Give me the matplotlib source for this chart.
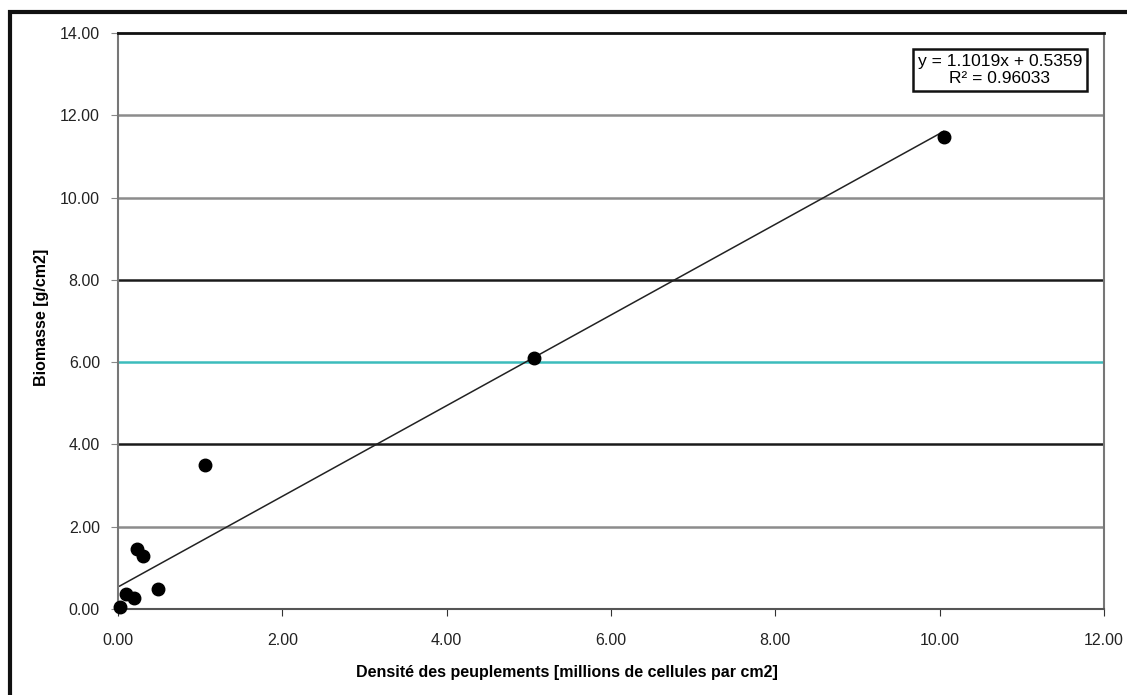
import matplotlib.pyplot as plt
import matplotlib.patches as mpatches
import numpy as np

plt.rcParams['font.family'] = ['Liberation Sans', 'DejaVu Sans']

# data
densite = np.array([0.02, 0.10, 0.19, 0.23, 0.31, 0.49, 1.06, 5.06, 10.05])
biomasse = np.array([0.06, 0.37, 0.28, 1.47, 1.30, 0.48, 3.50, 6.10, 11.48])
pente = 1.1019
ordonnee = 0.5359
r2 = 0.96033

yticks = [0, 2, 4, 6, 8, 10, 12, 14]
xticks = [0, 2, 4, 6, 8, 10, 12]
grid_colors = {2: '#8c8c8c', 4: '#1a1a1a', 6: '#3cbcbc', 8: '#1a1a1a', 10: '#8c8c8c', 12: '#8c8c8c'}

fig = plt.figure(figsize=(11.27, 6.95), dpi=100)
ax = fig.add_axes([0.1047, 0.1237, 0.8749, 0.8288])

# cadre extérieur
fig.patches.append(mpatches.Rectangle((10/1127, -0.05), 1.2, 1 - 12/695 + 0.05,
                                      transform=fig.transFigure, fill=False,
                                      edgecolor='#111111', linewidth=3))

for yv, c in grid_colors.items():
    ax.axhline(yv, color=c, linewidth=1.8, zorder=1)

xs = np.array([densite.min(), densite.max()])
ax.plot(xs, pente * xs + ordonnee, color='#222222', linewidth=1.1, zorder=2)
ax.plot(densite, biomasse, 'o', color='black', markersize=9, zorder=3, clip_on=False)

ax.set_xlim(0, 12)
ax.set_ylim(0, 14)
ax.set_xticks(xticks)
ax.set_yticks(yticks)
ax.set_xticklabels(['%.2f' % v for v in xticks])
ax.set_yticklabels(['%.2f' % v for v in yticks])
ax.tick_params(axis='x', direction='out', length=5, pad=12, labelsize=11.5, colors='#333333', labelcolor='#222222')
ax.tick_params(axis='y', direction='out', length=5, pad=8, labelsize=11.5, colors='#888888', labelcolor='#222222')

ax.spines['top'].set_color('#111111')
ax.spines['top'].set_linewidth(2)
ax.spines['left'].set_color('#777777')
ax.spines['left'].set_linewidth(1.5)
ax.spines['right'].set_color('#777777')
ax.spines['right'].set_linewidth(1.5)
ax.spines['bottom'].set_color('#555555')
ax.spines['bottom'].set_linewidth(1.5)

fig.text(567/1127, 1 - 672/695, 'Densité des peuplements [millions de cellules par cm2]',
         ha='center', va='center', fontsize=11.5, fontweight='bold')
fig.text(42/1127, 1 - 317/695, 'Biomasse [g/cm2]', rotation=90,
         ha='center', va='center', fontsize=11.5, fontweight='bold')

ax.text(0.8945, 0.9358, 'y = %.4fx + %.4f\nR² = %.5f' % (pente, ordonnee, r2),
        transform=ax.transAxes, ha='center', va='center', fontsize=12.5,
        multialignment='center', linespacing=1.15,
        bbox=dict(boxstyle='square,pad=0.3', facecolor='white', edgecolor='#111111', linewidth=1.8))

fig.savefig('out.png', dpi=100)
